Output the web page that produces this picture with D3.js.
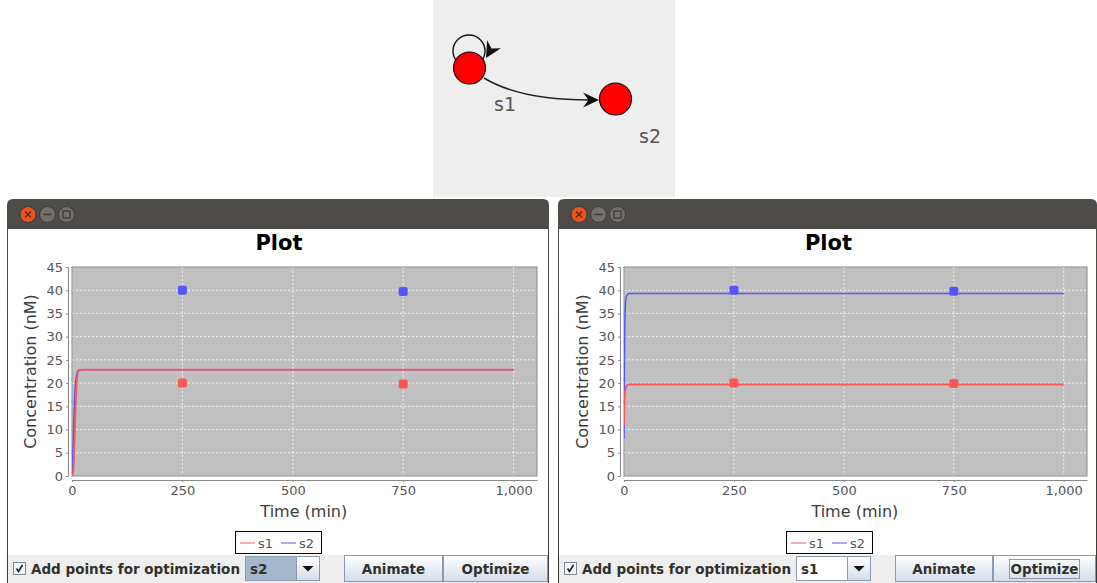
<!DOCTYPE html>
<html><head><meta charset="utf-8">
<script src="https://cdn.jsdelivr.net/npm/d3@7"></script>
<style>body{margin:0;background:#fff}svg{display:block}text{font-family:"DejaVu Sans",sans-serif}</style>
</head><body><svg id="c" width="1097" height="583"></svg>
<script>
// ---------- data ----------
const timeTicks = [0, 250, 500, 750, 1000];
const timeTickLabels = ["0", "250", "500", "750", "1,000"];
const concTicks = [0, 5, 10, 15, 20, 25, 30, 35, 40, 45];
const seriesNames = ["s1", "s2"];

const leftS1Time = [0, 2, 4, 6, 8, 10, 12, 14, 18, 25, 1000];
const leftS1 = [0, 0.5, 3, 8, 14, 19, 21.5, 22.4, 22.8, 22.9, 22.9];
const leftS2Time = [0, 2, 4, 6, 8, 10, 12, 15, 25, 1000];
const leftS2 = [0, 5, 12, 17, 20, 21.5, 22.3, 22.8, 22.9, 22.9];

const rightS1Time = [0, 1, 2, 4, 8, 12, 1000];
const rightS1 = [11, 15, 17.5, 19, 19.6, 19.7, 19.7];
const rightS2Time = [0, 1, 2, 3, 5, 8, 12, 1000];
const rightS2 = [8, 25, 33, 36.5, 38.5, 39.1, 39.3, 39.3];

const pointTimes = [250, 750];
const leftPtsS1 = [20, 19.8];
const leftPtsS2 = [40, 39.7];
const rightPtsS1 = [20, 19.9];
const rightPtsS2 = [40, 39.8];

const comboLeft = "s2", comboRight = "s1";

// ---------- drawing ----------
const svg = d3.select("#c");
const RED = "#ff5555", BLUE = "#5555ff";
const defs = svg.append("defs");
const tg = defs.append("linearGradient").attr("id","tbar").attr("x1",0).attr("y1",0).attr("x2",0).attr("y2",1);
tg.append("stop").attr("offset","0%").attr("stop-color","#4e4d49");
tg.append("stop").attr("offset","100%").attr("stop-color","#3a3935");
const bg = defs.append("linearGradient").attr("id","btn").attr("x1",0).attr("y1",0).attr("x2",0).attr("y2",1);
bg.append("stop").attr("offset","0%").attr("stop-color","#ffffff");
bg.append("stop").attr("offset","100%").attr("stop-color","#d2ddea");

// network diagram
const net = svg.append("g");
net.append("rect").attr("x",433).attr("y",0).attr("width",242).attr("height",197).attr("fill","#eeeeee");
net.append("circle").attr("cx",469).attr("cy",51).attr("r",16).attr("fill","none").attr("stroke","#111").attr("stroke-width",1.4);
net.append("path").attr("d","M484,78 Q520,100 590,100").attr("fill","none").attr("stroke","#222").attr("stroke-width",1.6);
net.append("path").attr("d","M599,100 L583,92.5 L588.5,100 L583,107.5 Z").attr("fill","#111");
net.append("path").attr("d","M0,0 L-16,-8 L-11,0 L-16,8 Z").attr("fill","#111")
  .attr("transform","translate(486,58) rotate(120)");
net.append("circle").attr("cx",469.5).attr("cy",68).attr("r",16).attr("fill","#ff0000").attr("stroke","#111").attr("stroke-width",1.2);
net.append("circle").attr("cx",615.5).attr("cy",99).attr("r",16).attr("fill","#ff0000").attr("stroke","#111").attr("stroke-width",1.2);
net.append("text").attr("x",494).attr("y",111).attr("font-size",19).attr("fill","#555").text("s1");
net.append("text").attr("x",639).attr("y",143).attr("font-size",19).attr("fill","#555").text("s2");

function windowPanel(cfg) {
  const g = svg.append("g");
  const x0 = cfg.x0, x1 = cfg.x1;
  // frame
  g.append("path").attr("d",`M${x0},583 L${x0},${205} Q${x0},199 ${x0+6},199 L${x1-6},199 Q${x1},199 ${x1},205 L${x1},583 Z`).attr("fill","url(#tbar)");
  g.append("rect").attr("x",x0+1).attr("y",229).attr("width",x1-x0-2).attr("height",354).attr("fill","#ffffff");
  g.append("rect").attr("x",x0+1).attr("y",555).attr("width",x1-x0-2).attr("height",28).attr("fill","#eeeeee");
  // title bar buttons
  const by = 214.5;
  g.append("circle").attr("cx",x0+21).attr("cy",by).attr("r",8).attr("fill","#e95420").attr("stroke","#3a3935");
  g.append("path").attr("d",`M${x0+18},${by-3} L${x0+24},${by+3} M${x0+24},${by-3} L${x0+18},${by+3}`).attr("stroke","#5a2a10").attr("stroke-width",1.4);
  g.append("circle").attr("cx",x0+40.5).attr("cy",by).attr("r",8).attr("fill","#72706b").attr("stroke","#3a3935");
  g.append("path").attr("d",`M${x0+36.5},${by} L${x0+44.5},${by}`).attr("stroke","#3c3b37").attr("stroke-width",1.5);
  g.append("circle").attr("cx",x0+59.5).attr("cy",by).attr("r",8).attr("fill","#72706b").attr("stroke","#3a3935");
  g.append("rect").attr("x",x0+56).attr("y",by-3.5).attr("width",7).attr("height",7).attr("fill","none").attr("stroke","#3c3b37").attr("stroke-width",1.3);

  // chart
  const pl = cfg.pl, pr = cfg.pr, pt = 267, pb = 476;
  const x = d3.scaleLinear().domain([0, 1053]).range([pl, pr]);
  const y = d3.scaleLinear().domain([0, 45]).range([pb, pt]);
  g.append("text").attr("x",(x0+x1)/2 + 1).attr("y",250).attr("text-anchor","middle").attr("font-size",21).attr("font-weight","bold").attr("fill","#000").text("Plot");
  g.append("rect").attr("x",pl).attr("y",pt).attr("width",pr-pl).attr("height",pb-pt).attr("fill","#c0c0c0");
  g.selectAll(".gy").data(concTicks).enter().append("line")
    .attr("x1",pl).attr("x2",pr).attr("y1",d=>y(d)).attr("y2",d=>y(d))
    .attr("stroke","#ffffff").attr("stroke-width",0.8).attr("stroke-dasharray","2,2");
  g.selectAll(".gx").data(timeTicks).enter().append("line")
    .attr("y1",pt).attr("y2",pb).attr("x1",d=>x(d)).attr("x2",d=>x(d))
    .attr("stroke","#ffffff").attr("stroke-width",0.8).attr("stroke-dasharray","2,2");
  g.append("rect").attr("x",pl).attr("y",pt).attr("width",pr-pl).attr("height",pb-pt).attr("fill","none").attr("stroke","#888").attr("stroke-width",1);

  // axes
  const yAxis = d3.axisLeft(y).tickValues(concTicks).tickSize(2).tickSizeOuter(0).tickPadding(3);
  const ya = g.append("g").attr("transform",`translate(${pl-4},0)`).call(yAxis);
  const xAxis = d3.axisBottom(x).tickValues(timeTicks).tickFormat((d,i)=>timeTickLabels[i]).tickSize(2).tickSizeOuter(0).tickPadding(4);
  const xa = g.append("g").attr("transform",`translate(0,${pb+4})`).call(xAxis);
  [ya, xa].forEach(a => {
    a.select(".domain").attr("stroke","#888");
    a.selectAll(".tick line").attr("stroke","#888");
    a.selectAll(".tick text").attr("font-size",13).attr("fill","#555").attr("font-family","DejaVu Sans");
  });
  g.append("text").attr("transform",`translate(${pl-36},${(pt+pb)/2}) rotate(-90)`).attr("text-anchor","middle")
    .attr("font-size",16).attr("fill","#3c3c3c").text("Concentration (nM)");
  g.append("text").attr("x",(pl+x(1000))/2 + 11).attr("y",517).attr("text-anchor","middle").attr("font-size",16).attr("fill","#3c3c3c").text("Time (min)");

  // lines
  const line = d3.line().x(d=>x(d[0])).y(d=>y(d[1])).curve(d3.curveMonotoneX);
  const clip = "clip" + cfg.id;
  defs.append("clipPath").attr("id",clip).append("rect").attr("x",pl).attr("y",pt).attr("width",pr-pl).attr("height",pb-pt);
  const pg = g.append("g").attr("clip-path",`url(#${clip})`);
  pg.append("path").attr("d",line(d3.zip(cfg.s2t,cfg.s2))).attr("fill","none").attr("stroke",BLUE).attr("stroke-width",1.5);
  pg.append("path").attr("d",line(d3.zip(cfg.s1t,cfg.s1))).attr("fill","none").attr("stroke",RED).attr("stroke-width",1.8);
  pg.selectAll(".p2").data(d3.zip(pointTimes,cfg.p2)).enter().append("rect")
    .attr("x",d=>x(d[0])-4.5).attr("y",d=>y(d[1])-4.5).attr("width",9).attr("height",9).attr("rx",2).attr("fill",BLUE);
  pg.selectAll(".p1").data(d3.zip(pointTimes,cfg.p1)).enter().append("rect")
    .attr("x",d=>x(d[0])-4.5).attr("y",d=>y(d[1])-4.5).attr("width",9).attr("height",9).attr("rx",2).attr("fill",RED);

  // legend
  const lx = cfg.lx, ly = 531;
  g.append("rect").attr("x",lx+0.5).attr("y",ly+0.5).attr("width",86).attr("height",22).attr("fill","#fff").attr("stroke","#000");
  g.append("line").attr("x1",lx+5).attr("x2",lx+20).attr("y1",ly+12).attr("y2",ly+12).attr("stroke",RED);
  g.append("text").attr("x",lx+23).attr("y",ly+16.5).attr("font-size",13).attr("fill","#555").text(seriesNames[0]);
  g.append("line").attr("x1",lx+46).attr("x2",lx+61).attr("y1",ly+12).attr("y2",ly+12).attr("stroke",BLUE);
  g.append("text").attr("x",lx+64).attr("y",ly+16.5).attr("font-size",13).attr("fill","#555").text(seriesNames[1]);

  // controls
  const cx = x0 + 6;
  g.append("rect").attr("x",cx+0.5).attr("y",562.5).attr("width",12).attr("height",12).attr("fill","#f4f6f8").attr("stroke","#7a8a99");
  g.append("path").attr("d",`M${cx+3.5},${568.5} L${cx+5.5},${571.5} L${cx+9.5},${565}`).attr("fill","none").attr("stroke","#222").attr("stroke-width",1.7);
  g.append("text").attr("x",cx+18).attr("y",574).attr("font-size",13.5).attr("font-weight","bold").attr("fill","#33302c").text("Add points for optimization");
  const bx = cfg.combo;
  g.append("rect").attr("x",bx+0.5).attr("y",556.5).attr("width",74).attr("height",24).attr("fill","#fff").attr("stroke","#8a9bb0");
  g.append("rect").attr("x",bx+1).attr("y",557).attr("width",50).attr("height",23).attr("fill",cfg.comboSel ? "#a3b8cc" : "#ffffff");
  g.append("rect").attr("x",bx+51.5).attr("y",556.5).attr("width",23).attr("height",24).attr("fill","url(#btn)").attr("stroke","#8a9bb0");
  g.append("path").attr("d",`M${bx+57.5},${566} L${bx+68.5},${566} L${bx+63},${571.5} Z`).attr("fill","#111");
  g.append("text").attr("x",bx+5).attr("y",574).attr("font-size",13.5).attr("font-weight","bold").attr("fill","#33302c").text(cfg.comboText);
  cfg.buttons.forEach(b => {
    g.append("rect").attr("x",b[0]+0.5).attr("y",555.5).attr("width",b[1]-b[0]-1).attr("height",26).attr("fill","url(#btn)").attr("stroke","#8a9bb0");
    if (b[3]) g.append("rect").attr("x",b[0]+16.5).attr("y",559.5).attr("width",b[1]-b[0]-33).attr("height",19).attr("fill","none").attr("stroke","#8a9bb0");
    g.append("text").attr("x",(b[0]+b[1])/2).attr("y",574).attr("text-anchor","middle").attr("font-size",13.5).attr("font-weight","bold").attr("fill","#33302c").text(b[2]);
  });
}

windowPanel({id:"L", x0:7, x1:549, pl:72, pr:537, lx:235, combo:245, comboText:comboLeft, comboSel:true,
  s1t:leftS1Time, s1:leftS1, s2t:leftS2Time, s2:leftS2, p1:leftPtsS1, p2:leftPtsS2,
  buttons:[[344,443,"Animate",false],[443,548,"Optimize",false]]});
windowPanel({id:"R", x0:558, x1:1097, pl:624, pr:1087, lx:786, combo:796, comboText:comboRight, comboSel:false,
  s1t:rightS1Time, s1:rightS1, s2t:rightS2Time, s2:rightS2, p1:rightPtsS1, p2:rightPtsS2,
  buttons:[[895,993,"Animate",false],[993,1096,"Optimize",true]]});
</script></body></html>
